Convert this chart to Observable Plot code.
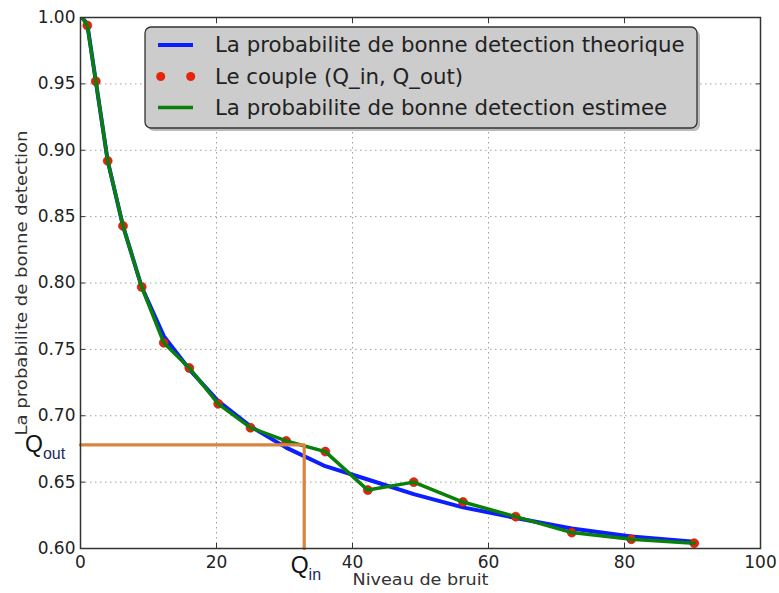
<!DOCTYPE html>
<html><head><meta charset="utf-8">
<script src="https://cdn.jsdelivr.net/npm/d3@7"></script>
<script src="https://cdn.jsdelivr.net/npm/@observablehq/plot@0.6"></script>
<style>body{margin:0;background:#fff;} #chart{width:779px;height:593px;}</style>
</head><body><div id="chart"></div>
<script>
// ---- data ----
const xNoise     = [0.25, 1, 2.25, 4, 6.25, 9, 12.25, 16, 20.25, 25, 30.25, 36, 42.25, 49, 56.25, 64, 72.25, 81, 90.25];
const pTheorique = [1.000, 0.995, 0.952, 0.892, 0.843, 0.797, 0.760, 0.735, 0.711, 0.692, 0.676, 0.662, 0.652, 0.641, 0.631, 0.623, 0.615, 0.609, 0.605];
const pEstimee   = [1.000, 0.994, 0.952, 0.892, 0.843, 0.797, 0.755, 0.736, 0.709, 0.691, 0.681, 0.673, 0.644, 0.650, 0.635, 0.624, 0.612, 0.607, 0.604];
const xTicks = [0, 20, 40, 60, 80, 100];
const yTicks = [0.60, 0.65, 0.70, 0.75, 0.80, 0.85, 0.90, 0.95, 1.00];
const qIn = 32.9, qOut = 0.678;
const legendLabels = [
  "La probabilite de bonne detection theorique",
  "Le couple (Q_in, Q_out)",
  "La probabilite de bonne detection estimee"
];
const xLabel = "Niveau de bruit";
const yLabel = "La probabilite de bonne detection";

const theo = xNoise.map((x, i) => ({x, y: pTheorique[i]}));
const est = xNoise.map((x, i) => ({x, y: pEstimee[i]}));
const couples = est.filter(d => d.x >= 1);
const guide = [{x: 0, y: qOut}, {x: qIn, y: qOut}, {x: qIn, y: 0.60}];

const BLUE = "#0a1eff", GREEN = "#0a7f0a", RED = "#e8230c", ORANGE = "#d9843e";
const FONT = "DejaVu Sans";

const chart = Plot.plot({
  width: 779, height: 593,
  marginLeft: 80, marginRight: 19, marginTop: 17, marginBottom: 45,
  style: {fontFamily: FONT, background: "#fff", color: "#222"},
  x: {domain: [0, 100]},
  y: {domain: [0.6, 1.0]},
  marks: [
    Plot.gridX(xTicks.slice(1, -1), {stroke: "#888", strokeOpacity: 0.8, strokeDasharray: "1.5,3.5"}),
    Plot.gridY(yTicks.slice(1, -1), {stroke: "#888", strokeOpacity: 0.8, strokeDasharray: "1.5,3.5"}),
    Plot.line(theo, {x: "x", y: "y", stroke: BLUE, strokeWidth: 4, clip: true}),
    Plot.dot(couples, {x: "x", y: "y", r: 4.5, fill: RED, stroke: "#b01a08", strokeWidth: 0.6}),
    Plot.line(est, {x: "x", y: "y", stroke: GREEN, strokeWidth: 3.5, clip: true}),
    Plot.line(guide, {x: "x", y: "y", stroke: ORANGE, strokeWidth: 3.2}),
    Plot.frame({stroke: "#333", strokeWidth: 1.5}),
    Plot.axisX(xTicks, {anchor: "bottom", tickSize: 0, tickPadding: 7, fontSize: 17, label: null, tickFormat: d3.format("d")}),
    Plot.axisY(yTicks, {anchor: "left", tickSize: 0, tickPadding: 5, fontSize: 17, label: null, tickFormat: d3.format(".2f")}),
    Plot.axisX(xTicks, {anchor: "bottom", tickSize: -5, tickFormat: () => "", label: null, stroke: "#333"}),
    Plot.axisX(xTicks, {anchor: "top", tickSize: -5, tickFormat: () => "", label: null, stroke: "#333"}),
    Plot.axisY(yTicks, {anchor: "left", tickSize: -5, tickFormat: () => "", label: null, stroke: "#333"}),
    Plot.axisY(yTicks, {anchor: "right", tickSize: -5, tickFormat: () => "", label: null, stroke: "#333"}),
    Plot.text([yLabel], {text: d => d, frameAnchor: "left", textAnchor: "middle", rotate: -90, dx: -59, fontSize: 16.5, fill: "#333", className: "ylab"}),
    Plot.text([xLabel], {text: d => d, frameAnchor: "bottom", textAnchor: "middle", dy: 36, fontSize: 15, fill: "#333", className: "xlab"})
  ]
});
document.getElementById("chart").appendChild(chart);

const svg = d3.select(chart);
svg.selectAll(".ylab text").attr("textLength", 305).attr("lengthAdjust", "spacingAndGlyphs");
svg.selectAll(".xlab text").attr("textLength", 136).attr("lengthAdjust", "spacingAndGlyphs");

// ---- legend & annotations ----
const sx = chart.scale("x"), sy = chart.scale("y");
const lg = svg.append("g").attr("font-family", FONT).attr("text-anchor", "start");
const lx = 145, ly = 27, lw = 552, lh = 101;
lg.append("rect").attr("x", lx + 3).attr("y", ly + 3).attr("width", lw).attr("height", lh).attr("rx", 6)
  .attr("fill", "#777").attr("opacity", 0.5);
lg.append("rect").attr("x", lx).attr("y", ly).attr("width", lw).attr("height", lh).attr("rx", 6)
  .attr("fill", "#cccccc").attr("stroke", "#333").attr("stroke-width", 1.3);
const rowY = [45, 76.5, 107.5];
lg.append("line").attr("x1", 158).attr("x2", 193).attr("y1", rowY[0]).attr("y2", rowY[0]).attr("stroke", BLUE).attr("stroke-width", 4);
lg.append("circle").attr("cx", 160.7).attr("cy", rowY[1]).attr("r", 4.5).attr("fill", RED);
lg.append("circle").attr("cx", 190.7).attr("cy", rowY[1]).attr("r", 4.5).attr("fill", RED);
lg.append("line").attr("x1", 158).attr("x2", 193).attr("y1", rowY[2]).attr("y2", rowY[2]).attr("stroke", GREEN).attr("stroke-width", 3.5);
legendLabels.forEach((t, i) => {
  lg.append("text").attr("x", 215).attr("y", rowY[i]).attr("dy", "0.35em").attr("font-size", 21.3)
    .attr("fill", "#222").text(t);
});

function qLabel(x, y, sub) {
  const t = svg.append("text").attr("x", x).attr("y", y).attr("text-anchor", "start")
    .attr("font-family", "Liberation Sans, Arial, sans-serif").attr("fill", "#111");
  t.append("tspan").attr("font-size", 23).text("Q");
  t.append("tspan").attr("font-size", 16).attr("dy", 7).attr("fill", "#1b2a5a").text(sub);
}
qLabel(sx.apply(0) - 55, sy.apply(qOut) + 8, "out");
qLabel(sx.apply(qIn) - 13, sy.apply(0.60) + 25, "in");
</script>
</body></html>
